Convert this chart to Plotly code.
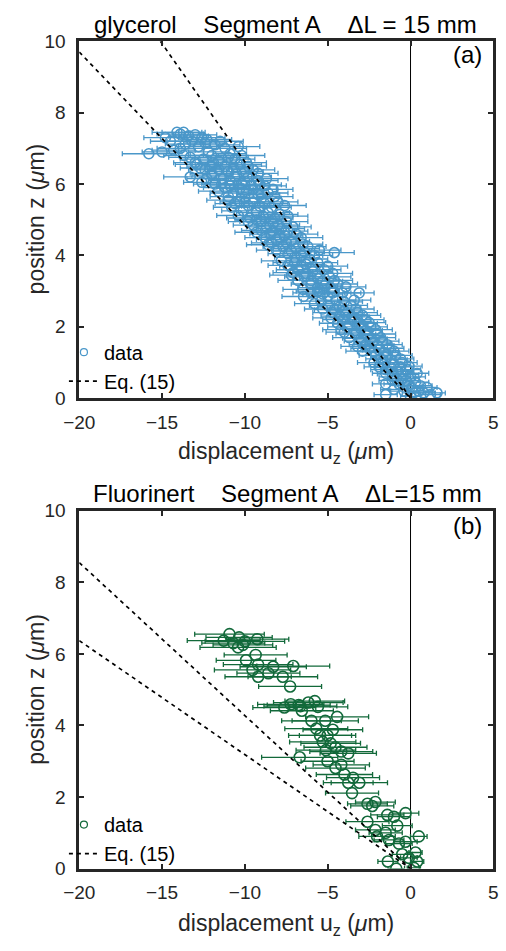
import plotly.graph_objects as go

# ---------------- data: panel (a) glycerol ----------------
a_x = [-14.1, -13.7, -13.4, -12.6, -14.5, -13.2,
       -15.8, -15.0, -13.9, -12.8, -11.8, -11.2, -12.2, -10.9, -13.3, -12.5, -11.6, -10.6,
       -12.9, -12.0, -11.2, -10.3, -12.4, -11.0, -10.0, -9.5,
       -13.3, -12.0, -11.3, -10.6, -9.8, -9.2, -12.6,
       -11.8, -10.9, -10.2, -9.6, -8.8,
       -11.6, -10.7, -9.9, -9.2, -8.6,
       -11.0, -10.3, -9.5, -8.8, -8.0, -10.8,
       -10.1, -9.3, -8.6, -7.9, -9.7,
       -9.8, -9.0, -8.3, -7.5, -8.7, -7.8,
       -9.3, -8.5, -7.6, -6.9, -8.1, -7.2,
       -8.6, -7.7, -6.9, -6.2, -4.6, -7.4, -6.6, -5.8,
       -7.8, -7.0, -6.3, -5.6, -6.8, -5.9, -5.2,
       -7.2, -6.4, -5.6, -4.9, -6.0, -5.2, -4.4,
       -6.5, -5.6, -4.1, -3.1, -6.46, -5.0, -4.5,
       -5.8, -5.0, -4.3, -3.6, -4.7, -3.9, -3.2,
       -4.8, -4.1, -3.4, -2.7, -3.8, -3.0, -2.4,
       -4.0, -3.3, -2.6, -2.0, -3.0, -2.3, -1.7,
       -3.2, -2.5, -1.9, -1.3, -2.1, -1.5, -0.9,
       -2.2, -1.6, -1.0, -0.5, -1.5, -0.8, -0.2,
       -1.5, -1.0, -0.5, 0.0, -1.5, -0.7, -0.1, 0.3,
       -1.5, -0.4, 0.2, 0.5, 0.8, 1.2, 1.6, 0.0,
       -13.9, -13.0, -12.3, -14.8,
       -13.6, -12.4, -11.5, -10.4, -14.3,
       -13.7, -12.0, -11.0, -10.2, -13.0, -11.9, -9.9,
       -12.7, -11.6, -10.7, -9.8, -12.0, -10.5, -9.2,
       -12.3, -10.9, -10.0, -8.7, -11.4, -9.1,
       -11.2, -10.3, -9.5, -8.3, -11.0, -10.0, -9.0, -8.2,
       -10.6, -9.8, -9.1, -8.4, -7.6,
       -10.4, -8.9, -8.2, -7.4, -9.3,
       -9.5, -8.0, -7.1, -9.0, -8.3, -7.4,
       -8.8, -7.9, -6.6, -8.4, -7.5, -6.5,
       -8.1, -7.2, -6.4, -5.5, -7.0, -6.1,
       -7.4, -6.6, -5.9, -5.0, -7.1, -6.3, -4.7,
       -6.8, -6.0, -5.3, -4.6, -5.6, -4.8, -3.9,
       -6.0, -5.3, -4.7, -5.4, -4.0, -3.4,
       -5.3, -4.6, -4.0, -3.3, -4.3, -3.5, -2.9,
       -4.4, -3.7, -3.1, -2.5, -4.2, -2.7, -2.1,
       -3.7, -3.0, -2.4, -1.8, -2.7, -2.0, -1.4,
       -2.9, -2.2, -1.6, -1.0, -1.8, -1.2, -0.6,
       -1.9, -1.2, -0.6, -0.1, -1.1, -0.3, 0.4,
       -1.1, -0.3, 0.6, -1.0, 0.1, 1.0]
a_z = [7.45, 7.45, 7.35, 7.3, 7.2, 7.2,
       6.85, 6.9, 7.0, 7.05, 7.1, 7.0, 6.9, 6.85, 6.75, 6.7, 6.65, 6.7,
       6.55, 6.5, 6.5, 6.55, 6.4, 6.35, 6.35, 6.4,
       6.2, 6.25, 6.15, 6.2, 6.2, 6.1, 6.05,
       6.0, 5.95, 6.0, 5.95, 5.95,
       5.8, 5.75, 5.8, 5.7, 5.75,
       5.55, 5.5, 5.5, 5.45, 5.5, 5.35,
       5.25, 5.2, 5.2, 5.15, 5.05,
       4.95, 4.95, 4.9, 4.95, 4.8, 4.75,
       4.65, 4.6, 4.55, 4.6, 4.45, 4.4,
       4.3, 4.25, 4.2, 4.25, 4.08, 4.05, 4.0, 4.0,
       3.85, 3.8, 3.75, 3.8, 3.6, 3.55, 3.6,
       3.45, 3.4, 3.35, 3.4, 3.2, 3.15, 3.2,
       3.05, 3.0, 2.95, 2.95, 2.85, 2.85, 2.75,
       2.65, 2.6, 2.55, 2.6, 2.4, 2.35, 2.4,
       2.25, 2.2, 2.15, 2.2, 2.0, 1.95, 2.0,
       1.85, 1.8, 1.75, 1.8, 1.6, 1.55, 1.6,
       1.45, 1.4, 1.35, 1.4, 1.2, 1.15, 1.2,
       1.0, 0.95, 0.95, 1.0, 0.8, 0.75, 0.8,
       0.7, 0.6, 0.55, 0.6, 0.4, 0.4, 0.35, 0.45,
       0.1, 0.2, 0.15, 0.2, 0.15, 0.1, 0.15, 0.05,
       7.4, 7.38, 7.25, 7.3,
       7.12, 7.15, 7.2, 7.05, 6.95,
       6.8, 6.8, 6.75, 6.8, 6.6, 6.6, 6.6,
       6.45, 6.42, 6.45, 6.5, 6.3, 6.28, 6.3,
       6.15, 6.1, 6.08, 6.15, 6.0, 5.98,
       5.9, 5.88, 5.85, 5.85, 5.65, 5.62, 5.6, 5.65,
       5.45, 5.4, 5.38, 5.35, 5.4,
       5.12, 5.1, 5.05, 5.1, 5.0,
       4.85, 4.85, 4.8, 4.7, 4.68, 4.68,
       4.5, 4.52, 4.5, 4.35, 4.35, 4.32,
       4.15, 4.12, 4.1, 4.15, 3.95, 3.9,
       3.72, 3.7, 3.68, 3.7, 3.52, 3.5, 3.5,
       3.3, 3.3, 3.28, 3.3, 3.1, 3.08, 3.12,
       2.95, 2.92, 2.95, 2.72, 2.7, 2.75,
       2.5, 2.48, 2.45, 2.5, 2.3, 2.28, 2.32,
       2.1, 2.08, 2.1, 2.12, 1.92, 1.9, 1.92,
       1.7, 1.68, 1.66, 1.7, 1.5, 1.48, 1.5,
       1.32, 1.3, 1.28, 1.32, 1.1, 1.08, 1.1,
       0.88, 0.86, 0.88, 0.9, 0.68, 0.66, 0.7,
       0.5, 0.5, 0.35, 0.25, 0.28, 0.3]
a_err = [1.5, 1.3, 1.2, 1.4, 1.2, 1.5,
         1.6, 1.2, 1.4, 1.2, 1.5, 1.3, 1.2, 1.0, 1.3, 1.4, 1.1, 1.2,
         1.3, 1.5, 1.2, 1.3, 1.0, 1.4, 1.1, 1.3,
         1.6, 1.2, 1.3, 1.0, 1.4, 1.2, 1.1,
         1.3, 1.2, 1.4, 1.1, 1.3,
         1.2, 1.4, 1.0, 1.3, 1.2,
         1.3, 1.2, 1.1, 1.4, 1.2, 1.1,
         1.3, 1.2, 1.3, 1.1, 1.4,
         1.2, 1.3, 1.1, 1.3, 1.2, 1.4,
         1.3, 1.2, 1.1, 1.3, 1.2, 1.1,
         1.3, 1.2, 1.4, 1.1, 1.2, 1.2, 1.3, 1.1,
         1.2, 1.3, 1.1, 1.2, 1.3, 1.2, 1.0,
         1.3, 1.2, 1.1, 1.3, 1.2, 1.1, 1.2,
         1.2, 1.3, 1.1, 0.9, 1.3, 1.1, 1.2,
         1.2, 1.1, 1.3, 1.0, 1.2, 1.1, 1.2,
         1.1, 1.2, 1.0, 1.1, 1.2, 1.1, 1.0,
         1.1, 1.2, 1.0, 1.1, 1.0, 1.1, 1.0,
         1.0, 1.1, 1.0, 0.9, 1.0, 0.9, 1.0,
         1.0, 0.9, 1.0, 0.9, 0.9, 1.0, 0.8,
         0.8, 0.9, 0.8, 0.9, 0.8, 0.9, 0.8, 0.8,
         0.7, 0.8, 0.7, 0.8, 0.7, 0.6, 0.5, 0.6,
         1.4, 1.3, 1.5, 1.3,
         1.2, 1.3, 1.4, 1.3, 1.3,
         1.2, 1.3, 1.2, 1.4, 1.3, 1.1, 1.2,
         1.2, 1.3, 1.2, 1.1, 1.3, 1.2, 1.2,
         1.2, 1.3, 1.1, 1.3, 1.2, 1.3,
         1.3, 1.2, 1.4, 1.2, 1.1, 1.3, 1.2, 1.1,
         1.2, 1.3, 1.1, 1.2, 1.3,
         1.3, 1.2, 1.1, 1.2, 1.3,
         1.2, 1.3, 1.1, 1.2, 1.3, 1.2,
         1.2, 1.1, 1.3, 1.2, 1.3, 1.2,
         1.2, 1.1, 1.2, 1.3, 1.2, 1.1,
         1.2, 1.3, 1.1, 1.2, 1.2, 1.1, 1.2,
         1.2, 1.1, 1.2, 1.1, 1.2, 1.1, 1.2,
         1.1, 1.2, 1.1, 1.2, 1.1, 1.0,
         1.1, 1.2, 1.0, 1.1, 1.1, 1.0, 1.1,
         1.1, 1.0, 1.1, 1.0, 1.1, 1.0, 1.0,
         1.0, 1.1, 1.0, 0.9, 1.0, 1.0, 0.9,
         1.0, 1.0, 0.9, 0.9, 0.9, 1.0, 0.8,
         0.9, 0.9, 0.8, 0.8, 0.9, 0.8, 0.7,
         0.8, 0.8, 0.7, 0.8, 0.7, 0.6]

# Eq. (15) lines, panel (a)
a_eq1_x = [-20, 0]
a_eq1_z = [9.7, 0]
a_eq2_x = [-15.1, 0]
a_eq2_z = [10, 0]

# ---------------- data: panel (b) Fluorinert ----------------
b_x = [-10.93, -10.35, -11.28, -10.12, -10.41, -9.25, -10.7, -10.0,
       -9.35, -9.93, -9.2, -8.29, -7.08, -9.54, -8.58, -7.71, -9.2, -7.27,
       -7.23, -6.75, -6.17, -5.78, -7.62, -6.65, -5.59, -6.56,
       -4.43, -5.98, -5.15, -5.69, -4.69, -5.46, -5.01, -5.3, -4.82, -4.53,
       -3.76, -5.11, -4.18, -6.69, -5.01, -4.18, -4.53, -3.99, -3.47, -3.09,
       -3.76, -3.53, -2.6, -2.31, -2.12, -2.6, -2.12, -2.02,
       -1.4, -1.0, -0.8, -1.5, -1.3, -0.7, -0.3, 0.5, -0.5, -0.1, 0.3,
       -0.86, 0.2, -1.37, -0.3, 0.4]
b_z = [6.55, 6.46, 6.37, 6.25, 6.18, 6.41, 6.3, 6.35,
       5.97, 5.82, 5.70, 5.64, 5.66, 5.55, 5.46, 5.36, 5.36, 5.09,
       4.59, 4.57, 4.64, 4.68, 4.5, 4.54, 4.52, 4.41,
       4.24, 4.13, 4.13, 3.91, 3.88, 3.72, 3.72, 3.54, 3.5, 3.39,
       3.22, 3.31, 3.27, 3.11, 3.0, 2.9, 2.81, 2.63, 2.54, 2.40,
       2.40, 2.11, 1.81, 1.75, 1.86, 1.31, 1.08, 0.9,
       1.5, 1.45, 1.2, 1.0, 0.8, 0.7, 0.75, 0.9, 0.4, 0.3, 0.45,
       0.0, 0.02, 0.2, 1.55, 0.2]
b_err = [2.1, 2.0, 2.2, 1.8, 2.3, 1.9, 1.9, 2.4,
         1.9, 1.8, 2.1, 2.0, 2.2, 2.3, 1.9, 2.1, 2.0, 1.9,
         2.0, 1.9, 2.1, 1.8, 1.9, 2.2, 1.8, 1.9,
         1.9, 1.8, 2.0, 1.9, 1.8, 1.9, 1.7, 2.0, 1.8, 1.9,
         1.7, 1.8, 1.9, 2.3, 1.6, 1.7, 1.8, 1.7, 1.6, 1.7,
         1.5, 1.6, 1.2, 1.3, 1.2, 1.3, 1.2, 1.1,
         1.0, 1.0, 0.9, 1.0, 0.9, 0.8, 0.7, 0.5, 0.6, 0.5, 0.4,
         0.5, 0.4, 0.6, 0.8, 0.4]

b_eq1_x = [-20, 0]
b_eq1_z = [8.55, 0]
b_eq2_x = [-20, 0]
b_eq2_z = [6.37, 0]

zero_x = [0, 0]
zero_z = [0, 10]

x_ticks = [-20, -15, -10, -5, 0, 5]
y_ticks = [0, 2, 4, 6, 8, 10]

BLUE = "#4a97c9"
GREEN = "#12693a"
AX = "#262626"
FONT = "Liberation Sans, Arial, Helvetica, sans-serif"

fig = go.Figure()


def add_panel(xs, zs, errs, color, msize, e1x, e1z, e2x, e2z, xa, ya, leg):
    fig.add_trace(go.Scatter(
        x=zero_x, y=zero_z, mode="lines", line=dict(color="black", width=1),
        xaxis=xa, yaxis=ya, showlegend=False, hoverinfo="skip"))
    fig.add_trace(go.Scatter(
        x=xs, y=zs, mode="markers", name="data", showlegend=False,
        marker=dict(symbol="circle-open", size=msize, color=color, line=dict(width=1.6, color=color)),
        error_x=dict(type="data", array=errs, visible=True, color=color, thickness=1.3, width=2.5),
        xaxis=xa, yaxis=ya))
    # legend entry for the data (small symbol as in the original legend)
    fig.add_trace(go.Scatter(
        x=[None], y=[None], mode="markers", name="data",
        marker=dict(symbol="circle-open", size=7, color=color, line=dict(width=1.2, color=color)),
        xaxis=xa, yaxis=ya, legend=leg))
    fig.add_trace(go.Scatter(
        x=e1x + [None] + e2x, y=e1z + [None] + e2z, mode="lines", name="Eq. (15)",
        line=dict(color="black", width=1.7, dash="4px,4px"),
        xaxis=xa, yaxis=ya, legend=leg))


add_panel(a_x, a_z, a_err, BLUE, 10, a_eq1_x, a_eq1_z, a_eq2_x, a_eq2_z, "x", "y", "legend")
add_panel(b_x, b_z, b_err, GREEN, 11, b_eq1_x, b_eq1_z, b_eq2_x, b_eq2_z, "x2", "y2", "legend2")

W, H = 506, 951
xdom = [66 / W, 498 / W]
ydom_a = [1 - 397 / H, 1 - 32 / H]
ydom_b = [1 - 878 / H, 1 - 512 / H]

axis_common = dict(
    showline=True, mirror="ticks", linewidth=2.8, linecolor=AX,
    ticks="inside", ticklen=5, tickwidth=2, tickcolor=AX,
    showgrid=False, zeroline=False,
    tickfont=dict(family=FONT, size=19, color=AX),
)
xax_common = dict(domain=xdom, range=[-20, 5], tickvals=x_ticks, ticklabelstandoff=5, **axis_common)
yax_common = dict(range=[0, 10], tickvals=y_ticks, ticklabelstandoff=7, **axis_common)

xlab = "displacement u<sub>z</sub> (<i>μ</i>m)"
ylab = "position z (<i>μ</i>m)"

leg_common = dict(xanchor="left", yanchor="top", bgcolor="rgba(0,0,0,0)",
                  font=dict(size=20, family=FONT, color="black"),
                  itemwidth=30, tracegroupgap=0)


def ann(text, x, y, size, angle=0, color="black"):
    return dict(text=text, x=x / W, y=1 - y / H, xref="paper", yref="paper", showarrow=False,
                xanchor="center", yanchor="middle", textangle=angle,
                font=dict(size=size, family=FONT, color=color))


SP = "\u00a0" * 4

fig.update_layout(
    width=W, height=H, margin=dict(l=0, r=0, t=0, b=0),
    paper_bgcolor="white", plot_bgcolor="white",
    font=dict(family=FONT, color="black"),
    xaxis=dict(anchor="y", **xax_common),
    yaxis=dict(domain=ydom_a, anchor="x", **yax_common),
    xaxis2=dict(anchor="y2", **xax_common),
    yaxis2=dict(domain=ydom_b, anchor="x2", **yax_common),
    legend=dict(x=50 / W, y=1 - 330 / H, **leg_common),
    legend2=dict(x=50 / W, y=1 - 813 / H, **leg_common),
    annotations=[
        ann("glycerol" + SP + "Segment A" + SP + "ΔL = 15 mm", 281, 15, 24),
        ann("Fluorinert" + SP + "Segment A" + SP + "ΔL=15 mm", 283, 494, 24),
        ann("(a)", 471, 45, 24),
        ann("(b)", 471, 527, 24),
        ann(xlab, 282, 452, 23, color=AX),
        ann(xlab, 282, 935, 23, color=AX),
        ann(ylab, 21, 214, 23, angle=-90, color=AX),
        ann(ylab, 21, 695, 23, angle=-90, color=AX),
    ],
)

fig.write_html("out.html")
